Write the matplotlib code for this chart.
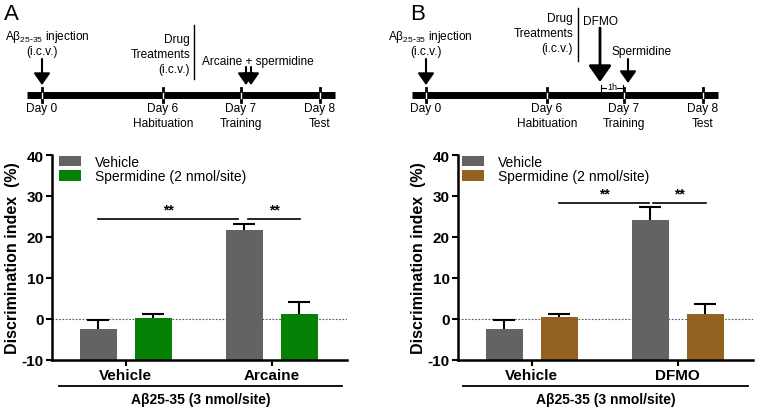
import numpy as np
import matplotlib
matplotlib.use('Agg')
import matplotlib.pyplot as plt

plt.rcParams['font.family'] = ['Liberation Sans', 'DejaVu Sans']
plt.rcParams['axes.unicode_minus'] = False

groups = ['Vehicle', 'Arcaine']
groups_b = ['Vehicle', 'DFMO']
series = ['Vehicle', 'Spermidine (2 nmol/site)']

# panel A: means and upper SEM
veh_a = [-2.5, 21.8]
veh_a_err = [2.3, 1.4]
sper_a = [0.3, 1.3]
sper_a_err = [0.9, 2.9]

# panel B
veh_b = [-2.5, 24.2]
veh_b_err = [2.3, 3.0]
sper_b = [0.4, 1.1]
sper_b_err = [0.8, 2.6]

# significance brackets: (x0, x1, y, label)
sig_a = [(-0.19, 0.77, 24.4, '**'), (0.84, 1.19, 24.4, '**')]
sig_b = [(0.19, 0.80, 28.3, '**'), (0.83, 1.19, 28.3, '**')]

GREY = '#636363'
GREEN = '#058205'
BROWN = '#946220'

W, H = 758, 414
fig = plt.figure(figsize=(W / 100, H / 100), dpi=100)


def bar_panel(left_px, labels, veh, veh_err, sper, sper_err, col, sig, leg_x):
    ax = fig.add_axes([left_px / W, (H - 361) / H, 295 / W, 205 / H])
    x = np.arange(len(labels))
    off, bw = 0.188, 0.253
    base = -10
    for xs, vals, errs, c, lab in [(x - off, veh, veh_err, GREY, series[0]),
                                   (x + off, sper, sper_err, col, series[1])]:
        vals = np.array(vals)
        ax.bar(xs, vals - base, bw, bottom=base, color=c, label=lab, zorder=2)
        tops = vals + np.array(errs)
        ax.vlines(xs, vals, tops, color='black', lw=1.5, zorder=3)
        ax.hlines(tops, xs - bw * 0.3, xs + bw * 0.3, color='black', lw=1.5, zorder=3)
    ax.axhline(0, color='#555555', lw=0.8, ls=(0, (1.5, 1.5)), zorder=1)
    for x0, x1, y, s in sig:
        ax.plot([x0, x1], [y, y], color='black', lw=1.2)
        ax.text((x0 + x1) / 2, y + 0.6, s, ha='center', va='bottom', fontsize=10, fontweight='bold')
    ax.set_xlim(-0.505, 1.515)
    ax.set_ylim(-10, 40)
    ax.set_yticks(np.arange(-10, 41, 10))
    ax.set_xticks(x)
    ax.set_xticklabels(labels, fontsize=11, fontweight='bold')
    for lbl in ax.get_yticklabels():
        lbl.set_fontweight('bold')
        lbl.set_fontsize(11)
    ax.tick_params(axis='both', direction='out', width=1.5, length=4, pad=2)
    for s in ['top', 'right']:
        ax.spines[s].set_visible(False)
    for s in ['left', 'bottom']:
        ax.spines[s].set_linewidth(1.8)
    ax.set_ylabel('Discrimination index  (%)', fontsize=11.5, fontweight='bold', labelpad=1)
    ax.legend(loc='upper left', bbox_to_anchor=(leg_x, 1.035), frameon=False, fontsize=10,
              handlelength=1.6, handleheight=0.8, handletextpad=1.0, labelspacing=0.05,
              borderaxespad=0.1)
    return ax


ax_a = bar_panel(52, groups, veh_a, veh_a_err, sper_a, sper_a_err, GREEN, sig_a, 0.0)
ax_b = bar_panel(458, groups_b, veh_b, veh_b_err, sper_b, sper_b_err, BROWN, sig_b, -0.01)

# overlay in pixel coordinates for schematic parts
ov = fig.add_axes([0, 0, 1, 1])
ov.set_xlim(0, W)
ov.set_ylim(H, 0)
ov.axis('off')

# bottom group line + caption
for x0, x1 in [(59, 342), (463, 748)]:
    ov.plot([x0, x1], [387, 387], color='black', lw=1.3)
    ov.text((x0 + x1) / 2, 400, 'Aβ25-35 (3 nmol/site)', ha='center', va='center',
            fontsize=10, fontweight='bold')

FS = 8.6


def timeline(x0, x1, ticks, y=96):
    ov.plot([x0, x1], [y, y], color='black', lw=5, solid_capstyle='butt')
    for t in ticks:
        ov.plot([t, t], [y - 7, y + 7], color='black', lw=2)
        ov.plot([t, t], [y - 2.5, y + 2.5], color='white', lw=1)
    labs = ['Day 0', 'Day 6', 'Day 7', 'Day 8']
    subs = ['', 'Habituation', 'Training', 'Test']
    for t, l, s in zip(ticks, labs, subs):
        ov.text(t, 109, l, ha='center', va='center', fontsize=FS)
        if s:
            ov.text(t, 124, s, ha='center', va='center', fontsize=FS)


def arrow(x, y0, y1, lw=1.5, hw=5):
    ov.annotate('', xy=(x, y1), xytext=(x, y0),
                arrowprops=dict(arrowstyle='-|>,head_width=%.2f,head_length=%.2f' % (hw / 10, hw / 7),
                                color='black', lw=lw, shrinkA=0, shrinkB=0))


# panel A schematic
ov.text(4, 14, 'A', fontsize=16, ha='left', va='center')
timeline(27, 335, [42, 163, 241, 320])
ov.text(5, 37, r'A$\mathregular{\beta}_{\mathregular{25\text{-}35}}$ injection', fontsize=FS, ha='left', va='center')
ov.text(42, 52, '(i.c.v.)', fontsize=FS, ha='center', va='center')
arrow(42, 60, 86)
ov.text(190, 55, 'Drug\nTreatments\n(i.c.v.)', fontsize=FS, ha='right', va='center', linespacing=1.3)
ov.plot([194, 194], [26, 80], color='black', lw=1)
ov.text(202, 62, 'Arcaine + spermidine', fontsize=FS, ha='left', va='center')
arrow(246, 68, 86)
arrow(251, 68, 86)

# panel B schematic
ov.text(410, 14, 'B', fontsize=16, ha='left', va='center')
timeline(412, 718, [426, 547, 624, 703])
ov.text(388, 37, r'A$\mathregular{\beta}_{\mathregular{25\text{-}35}}$ injection', fontsize=FS, ha='left', va='center')
ov.text(426, 52, '(i.c.v.)', fontsize=FS, ha='center', va='center')
arrow(426, 60, 86)
ov.text(573, 34, 'Drug\nTreatments\n(i.c.v.)', fontsize=FS, ha='right', va='center', linespacing=1.3)
ov.plot([578, 578], [9, 62], color='black', lw=1)
ov.text(583, 22, 'DFMO', fontsize=FS, ha='left', va='center')
arrow(600, 29, 83, lw=2, hw=7)
ov.text(612, 52, 'Spermidine', fontsize=FS, ha='left', va='center')
arrow(628, 60, 84)
ov.plot([601, 623], [89, 89], color='black', lw=0.8)
ov.plot([601, 601], [86, 92], color='black', lw=0.8)
ov.plot([623, 623], [86, 92], color='black', lw=0.8)
ov.text(612, 88, '1h', fontsize=6.5, ha='center', va='center',
        bbox=dict(facecolor='white', edgecolor='none', pad=0.3))

fig.savefig('out.png', dpi=100)
